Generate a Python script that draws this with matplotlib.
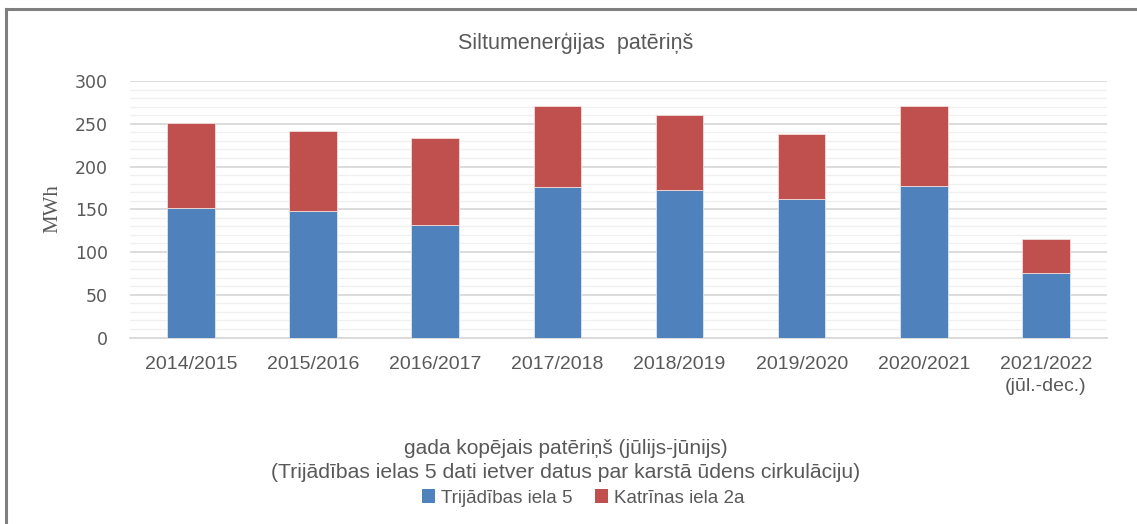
import numpy as np
import matplotlib.pyplot as plt
from matplotlib.lines import Line2D
from matplotlib.patches import Patch

# Dati (MWh)
sezonas = ["2014/2015", "2015/2016", "2016/2017", "2017/2018",
           "2018/2019", "2019/2020", "2020/2021", "2021/2022\n(jūl.-dec.)"]
trijadibas = [152, 148, 132, 176, 172, 162, 177, 76]
katrinas = [99, 93, 101, 95, 88, 76, 94, 39]

zila = "#4F81BD"
sarkana = "#C0504D"
teksts = "#595959"
fonts = ["Liberation Sans", "DejaVu Sans"]

fig = plt.figure(figsize=(11.37, 5.24), dpi=100)
ax = fig.add_axes([0.1143, 0.3559, 0.8593, 0.4895])

x = np.arange(len(sezonas))
ax.bar(x, trijadibas, width=0.39, color=zila, edgecolor="#DCE6F2", linewidth=0.6, zorder=3)
ax.bar(x, katrinas, width=0.39, bottom=trijadibas, color=sarkana,
       edgecolor="#F2DCDB", linewidth=0.6, zorder=3)

ax.set_xlim(-0.5, len(sezonas) - 0.5)
ax.set_ylim(0, 300)
ax.set_yticks(np.arange(0, 301, 50))
ax.set_yticks(np.arange(0, 301, 10), minor=True)
ax.grid(axis="y", which="major", color="#D9D9D9", linewidth=1.3, zorder=0)
ax.grid(axis="y", which="minor", color="#F0F0F0", linewidth=1.0, zorder=0)

ax.set_xticks(x)
ax.set_xticklabels(sezonas, family=fonts, fontsize=14, color=teksts, linespacing=1.45,
                   va="top")
for lab in ax.get_yticklabels():
    lab.set_family("DejaVu Sans")
ax.tick_params(axis="y", which="both", length=0, labelsize=12.5, labelcolor=teksts, pad=16)
ax.tick_params(axis="x", length=0, pad=13)

for s in ["top", "right", "left"]:
    ax.spines[s].set_visible(False)
ax.spines["bottom"].set_color("#D9D9D9")
ax.spines["bottom"].set_linewidth(1.3)

fig.text(53 / 1137, 1 - 209 / 524, "MWh", rotation=90, ha="center", va="center",
         family="Liberation Serif", fontsize=15, color=teksts)

fig.text(576 / 1137, 1 - 43 / 524, "Siltumenerģijas  patēriņš", ha="center", va="center",
         family=fonts, fontsize=15.5, color=teksts)

fig.text(566 / 1137, 1 - 448 / 524, "gada kopējais patēriņš (jūlijs-jūnijs)",
         ha="center", va="center", family=fonts, fontsize=15, color=teksts)
fig.text(566 / 1137, 1 - 472 / 524,
         "(Trijādības ielas 5 dati ietver datus par karstā ūdens cirkulāciju)",
         ha="center", va="center", family=fonts, fontsize=15.2, color=teksts)

rokturi = [Patch(facecolor=zila), Patch(facecolor=sarkana)]
fig.legend(rokturi, ["Trijādības iela 5", "Katrīnas iela 2a"], loc="center",
           bbox_to_anchor=(583 / 1137, 1 - 498 / 524), ncol=2, frameon=False,
           prop={"family": fonts, "size": 13.5}, labelcolor=teksts,
           handlelength=0.7, handleheight=0.7, handletextpad=0.3, columnspacing=1.2)

# rāmis
fig.add_artist(Line2D([6 / 1137, 1.0], [1 - 9 / 524, 1 - 9 / 524], color="#7F7F7F", linewidth=2.2))
fig.add_artist(Line2D([6 / 1137, 6 / 1137], [1 - 9 / 524, 0.0], color="#7F7F7F", linewidth=2.2))

fig.savefig("out.png", dpi=100)
